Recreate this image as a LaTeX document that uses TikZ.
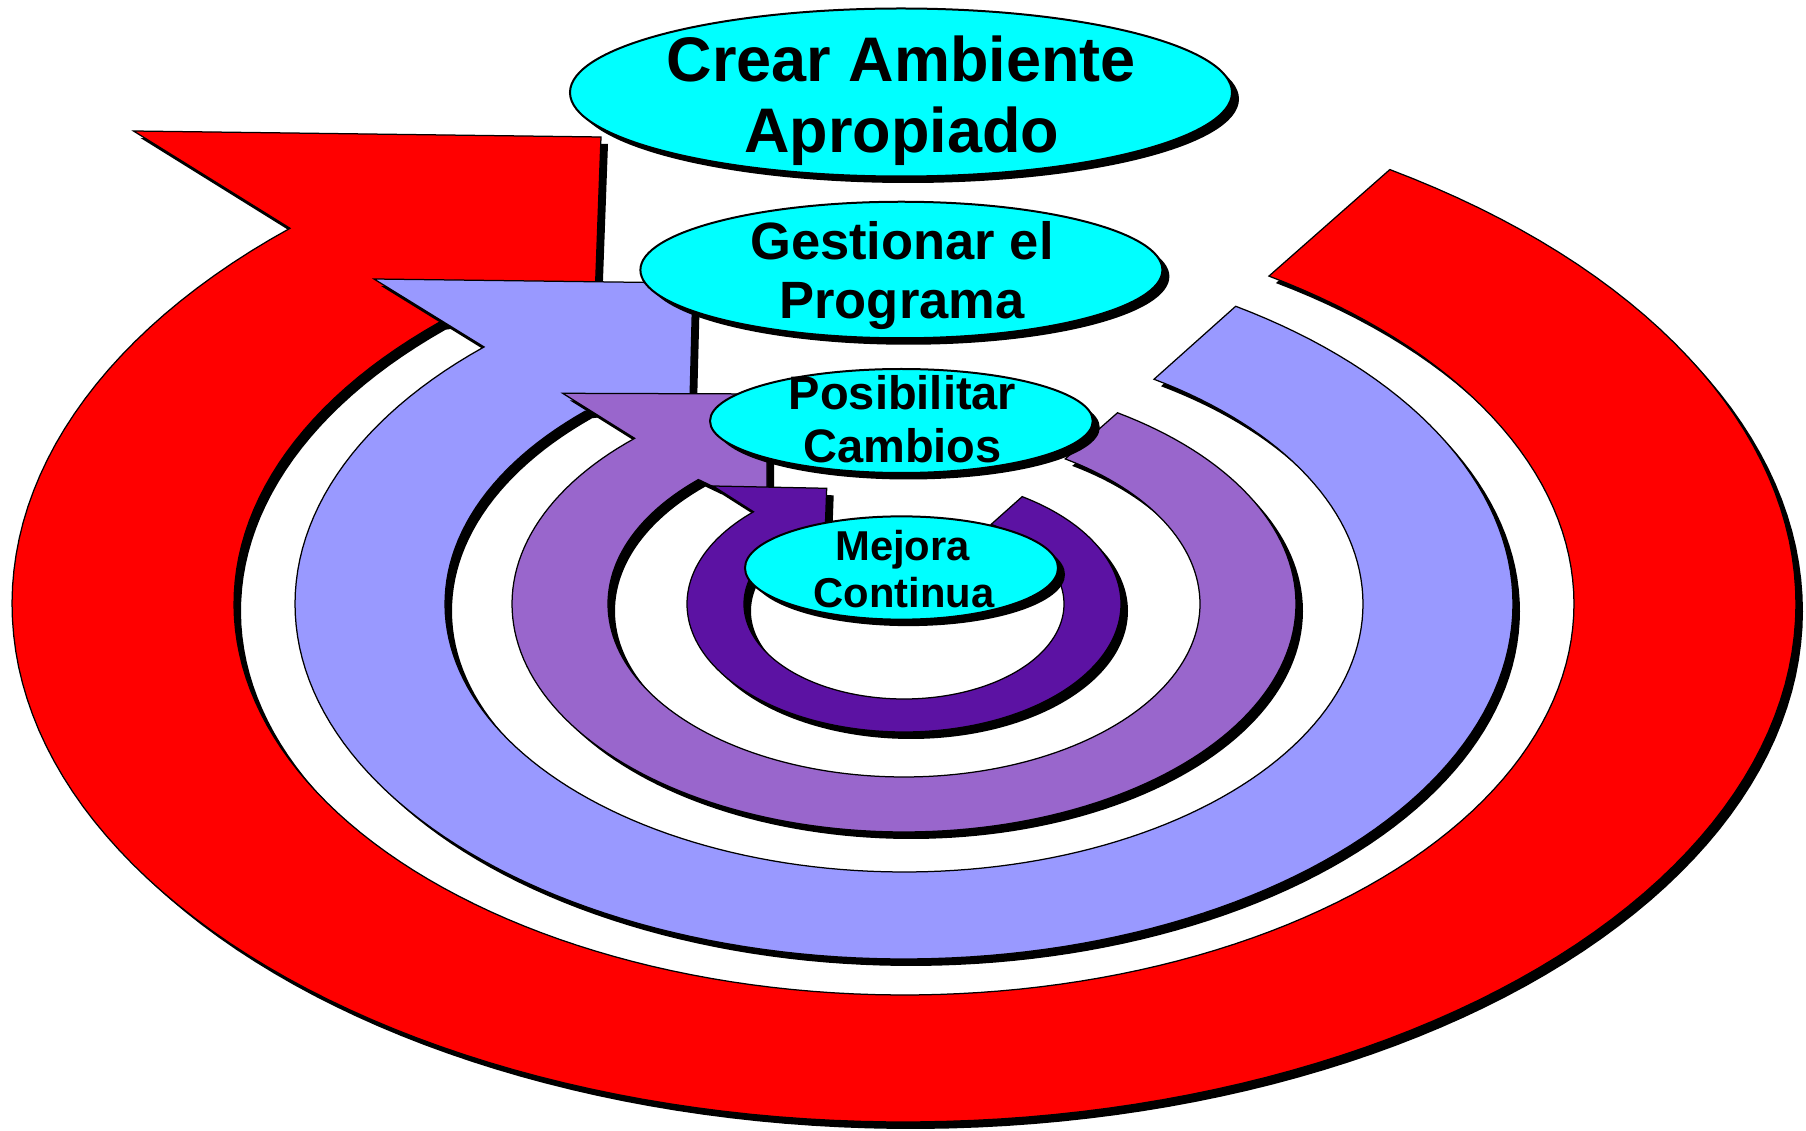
\documentclass[tikz,border=0pt]{standalone}
\usepackage{fontspec}
\setmainfont{Liberation Sans}
\usetikzlibrary{shapes.geometric,shadows}
\definecolor{ringred}{HTML}{FF0000}
\definecolor{ringlav}{HTML}{9999FF}
\definecolor{ringmed}{HTML}{9966CC}
\definecolor{ringdark}{HTML}{5C12A3}
\definecolor{bubcyan}{HTML}{00FFFF}
% #1,#2 outer radii, #3,#4 inner radii, #5 notch angle, #6 barb, #7 top-right, #8 bottom-right (+ optional extra corners)
\newcommand{\ringpath}[8]{plot[domain=-57:#5,samples=160] ({904+#1*cos(\x)},{604+#2*sin(\x)}) -- #6 -- #7 -- #8 -- plot[domain=226:-57,samples=160] ({904+#3*cos(\x)},{604+#4*sin(\x)}) -- cycle}
\begin{document}
\begin{tikzpicture}[x=0.4pt,y=-0.4pt,
  ringshadow/.style={fill=black, shift={(7,7)}},
  ringedge/.style={draw=black, line width=0.5pt, line join=miter},
  bubble/.style={ellipse, draw=black, line width=0.8pt, fill=bubcyan, inner sep=0pt,
     drop shadow={shadow xshift=2.8pt, shadow yshift=-2.6pt, opacity=1, fill=black}},
  txt/.style={anchor=base, inner sep=0pt},
  tcrear/.style={txt, font=\fontsize{25.2pt}{30pt}\selectfont\bfseries},
  tgest/.style={txt, font=\fontsize{21pt}{25pt}\selectfont\bfseries},
  tposib/.style={txt, font=\fontsize{18.8pt}{22pt}\selectfont\bfseries},
  tmejora/.style={txt, font=\fontsize{16.7pt}{20pt}\selectfont\bfseries}]
\useasboundingbox (0,0) rectangle (1806,1131);

% red (outermost) ring arrow
\fill[ringshadow] \ringpath{892}{518}{670}{391}{226.5}{(133.5,131)}{(601,137)}{(595,300)};
\path[ringedge, fill=ringred] \ringpath{892}{518}{670}{391}{226.5}{(133.5,131)}{(601,137)}{(595,300)};

% lavender ring arrow
\fill[ringshadow] \ringpath{609}{355}{459}{268}{226.4}{(374,279)}{(693,283)}{(690,400)};
\path[ringedge, fill=ringlav] \ringpath{609}{355}{459}{268}{226.4}{(374,279)}{(693,283)}{(690,400)};

% medium purple ring arrow
\fill[ringshadow] \ringpath{392}{228}{296}{173}{226.6}{(562.7,393.3)}{(767,394)}{(767,489) -- (714,487)};
\path[ringedge, fill=ringmed] \ringpath{392}{228}{296}{173}{226.6}{(562.7,393.3)}{(767,394)}{(767,489) -- (714,487)};

% dark purple ring arrow
\fill[ringshadow] \ringpath{217}{128}{160}{95}{226.1}{(713,486)}{(826.7,488.3)}{(824,565)};
\path[ringedge, fill=ringdark] \ringpath{217}{128}{160}{95}{226.1}{(713,486)}{(826.7,488.3)}{(824,565)};

% labels
\node[bubble, minimum width=264.8pt, minimum height=67.2pt] (crear) at (901,92.5) {};
\node[tcrear] (crearA) at (901.3,81.7) {Crear Ambiente};
\node[tcrear] (crearB) at (901.6,153) {Apropiado};

\node[bubble, minimum width=208.8pt, minimum height=54.6pt] (gest) at (901.4,270) {};
\node[tgest] (gestA) at (902,259.3) {Gestionar el};
\node[tgest] (gestB) at (902,318.3) {Programa};

\node[bubble, minimum width=153.1pt, minimum height=41.6pt] (posib) at (901.4,421) {};
\node[tposib] (posibA) at (902.5,410) {Posibilitar};
\node[tposib] (posibB) at (902.5,463) {Cambios};

\node[bubble, minimum width=125.2pt, minimum height=41.3pt] (mejora) at (901.5,568) {};
\node[tmejora] (mejoraA) at (902.5,560) {Mejora};
\node[tmejora] (mejoraB) at (904,607.7) {Continua};
\end{tikzpicture}
\end{document}
